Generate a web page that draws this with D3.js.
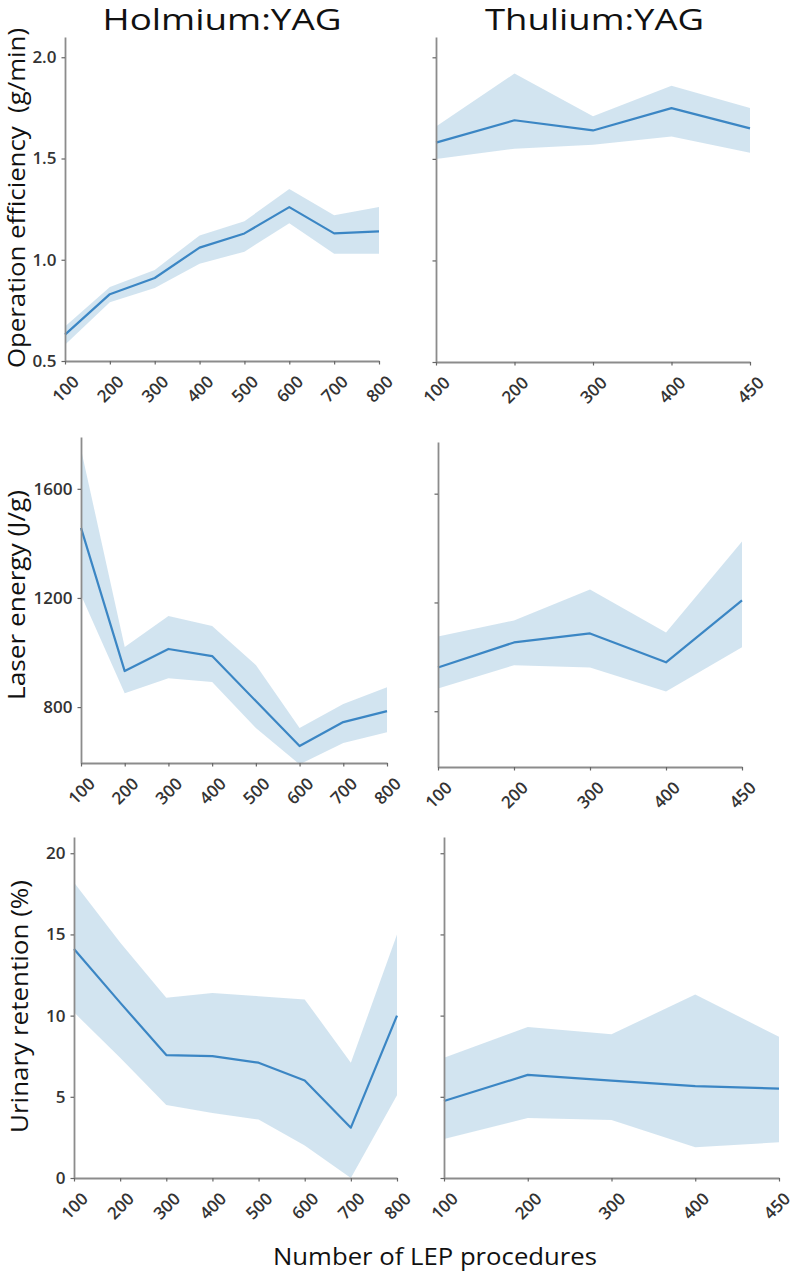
<!DOCTYPE html>
<html><head><meta charset="utf-8">
<script src="https://cdn.jsdelivr.net/npm/d3@7"></script>
<style>body{margin:0;background:#fff}</style>
</head><body><svg id="c" width="794" height="1273"></svg>
<script>
// ---- data ----
const holmiumProcedures = ["100","200","300","400","500","600","700","800"];
const thuliumProcedures = ["100","200","300","400","450"];

const hoEfficiency     = [0.63,0.83,0.91,1.06,1.13,1.26,1.13,1.14];
const hoEfficiencyLow  = [0.58,0.79,0.86,0.98,1.04,1.18,1.03,1.03];
const hoEfficiencyHigh = [0.67,0.865,0.95,1.12,1.19,1.35,1.22,1.26];
const tmEfficiency     = [1.58,1.69,1.64,1.75,1.65];
const tmEfficiencyLow  = [1.50,1.55,1.57,1.61,1.53];
const tmEfficiencyHigh = [1.66,1.92,1.71,1.86,1.75];

const hoEnergy     = [1457,932,1013,987,822,657,745,785];
const hoEnergyLow  = [1211,851,906,892,723,590,668,708];
const hoEnergyHigh = [1745,1020,1134,1097,954,723,811,873];
const tmEnergy     = [961,1053,1086,980,1208];
const tmEnergyLow  = [884,969,961,873,1035];
const tmEnergyHigh = [1075,1134,1248,1090,1424];

const hoRetention     = [14.1,10.8,7.57,7.5,7.1,6.0,3.1,10.0];
const hoRetentionLow  = [10.2,7.4,4.5,4.0,3.6,2.0,0.0,5.1];
const hoRetentionHigh = [18.2,14.5,11.1,11.4,11.2,11.0,7.1,15.0];
const tmRetention     = [4.74,6.35,6.0,5.66,5.5];
const tmRetentionLow  = [2.4,3.7,3.57,1.9,2.2];
const tmRetentionHigh = [7.4,9.3,8.85,11.3,8.7];

const efficiencyTicks = [0.5,1.0,1.5,2.0];
const energyTicks = [800,1200,1600];
const retentionTicks = [0,5,10,15,20];

const titles = ["Holmium:YAG","Thulium:YAG"];
const yLabels = ["Operation efficiency  (g/min)","Laser energy (J/g)","Urinary retention (%)"];
const xLabel = "Number of LEP procedures";

// ---- layout ----
const W = 794;
const svg = d3.select("#c");
const axisColor = "#8c8c8c";
const lineColor = "#3b86c4";
const bandColor = "rgba(31,119,180,0.2)";
const tickFont = "'Open Sans', sans-serif";

const panels = [
  {cats: holmiumProcedures, m: hoEfficiency, lo: hoEfficiencyLow, hi: hoEfficiencyHigh, ticks: efficiencyTicks, fmt: d3.format(".1f"), xr:[65,379], yd:[0.5,2.1], yr:[361,37], labels:true},
  {cats: thuliumProcedures, m: tmEfficiency, lo: tmEfficiencyLow, hi: tmEfficiencyHigh, ticks: efficiencyTicks, fmt: d3.format(".1f"), xr:[436,750], yd:[0.5,2.1], yr:[362,37], labels:false},
  {cats: holmiumProcedures, m: hoEnergy, lo: hoEnergyLow, hi: hoEnergyHigh, ticks: energyTicks, fmt: d3.format("d"), xr:[81,387], yd:[595,1790], yr:[763,437], labels:true},
  {cats: thuliumProcedures, m: tmEnergy, lo: tmEnergyLow, hi: tmEnergyHigh, ticks: energyTicks, fmt: d3.format("d"), xr:[438,742], yd:[595,1790], yr:[767,442], labels:false},
  {cats: holmiumProcedures, m: hoRetention, lo: hoRetentionLow, hi: hoRetentionHigh, ticks: retentionTicks, fmt: d3.format("d"), xr:[74,397], yd:[0,21], yr:[1178,837], labels:true},
  {cats: thuliumProcedures, m: tmRetention, lo: tmRetentionLow, hi: tmRetentionHigh, ticks: retentionTicks, fmt: d3.format("d"), xr:[444,779], yd:[0,21], yr:[1178,837], labels:false}
];

panels.forEach((p, i) => {
  const x = d3.scalePoint().domain(p.cats).range(p.xr).padding(0);
  const y = d3.scaleLinear().domain(p.yd).range(p.yr);
  const g = svg.append("g");
  const clipId = "clip" + i;
  svg.append("clipPath").attr("id", clipId).append("rect")
    .attr("x", p.xr[0]).attr("y", p.yr[1])
    .attr("width", p.xr[1] - p.xr[0]).attr("height", p.yr[0] - p.yr[1]);

  const rows = p.cats.map((c, k) => ({c, m: p.m[k], lo: p.lo[k], hi: p.hi[k]}));
  g.append("path").datum(rows)
    .attr("clip-path", `url(#${clipId})`)
    .attr("fill", bandColor)
    .attr("d", d3.area().x(d => x(d.c)).y0(d => y(d.lo)).y1(d => y(d.hi)));
  g.append("path").datum(rows)
    .attr("fill", "none").attr("stroke", lineColor).attr("stroke-width", 2.2)
    .attr("stroke-linejoin", "round")
    .attr("d", d3.line().x(d => x(d.c)).y(d => y(d.m)));

  // y axis
  const ya = g.append("g").attr("transform", `translate(${p.xr[0]},0)`)
    .call(d3.axisLeft(y).tickValues(p.ticks).tickSize(3.5).tickSizeOuter(0).tickPadding(5)
      .tickFormat(p.labels ? p.fmt : () => ""));
  // x axis
  const xa = g.append("g").attr("transform", `translate(0,${p.yr[0]})`)
    .call(d3.axisBottom(x).tickSize(3.5).tickSizeOuter(0));
  [ya, xa].forEach(a => {
    a.select(".domain").attr("stroke", axisColor).attr("stroke-width", 1.8);
    a.selectAll(".tick line").attr("stroke", "#666").attr("stroke-width", 1.2);
    a.selectAll(".tick text").attr("fill", "#333")
      .style("font-family", tickFont).style("font-size", "17px").style("font-weight", "600");
  });
  xa.selectAll(".tick text")
    .attr("y", 0).attr("dy", "0.35em").attr("text-anchor", "middle")
    .each(function() {
      // keep rotated labels inside the page
      const px = x(this.textContent);
      const len = this.getComputedTextLength();
      const half = (len / 2 + 6) * Math.SQRT1_2;
      const shift = Math.min(0, (W - 3) - (px + half));
      d3.select(this).attr("transform", `translate(${shift},28) rotate(-45)`);
    });
});

// titles
const titleSpec = [{cx:222, w:239},{cx:594.5, w:219}];
titles.forEach((t, i) => {
  svg.append("text").text(t)
    .attr("x", titleSpec[i].cx - titleSpec[i].w/2).attr("y", 30)
    .attr("textLength", titleSpec[i].w).attr("lengthAdjust", "spacingAndGlyphs")
    .style("font-family", "'Open Sans', sans-serif").style("font-size", "29px").attr("fill", "#111");
});

// y labels
const ySpec = [{bx:25, y0:368, y1:28},{bx:25, y0:700, y1:490},{bx:28, y0:1133, y1:880}];
yLabels.forEach((t, i) => {
  const s = ySpec[i];
  svg.append("text").text(t)
    .attr("transform", `translate(${s.bx},${s.y0}) rotate(-90)`)
    .attr("x", 0).attr("y", 0)
    .attr("textLength", s.y0 - s.y1).attr("lengthAdjust", "spacingAndGlyphs")
    .style("white-space", "pre")
    .style("font-family", "'Open Sans', sans-serif").style("font-size", "24px").attr("fill", "#111");
});

// x label
svg.append("text").text(xLabel)
  .attr("x", 273).attr("y", 1265)
  .attr("textLength", 324).attr("lengthAdjust", "spacingAndGlyphs")
  .style("font-family", "'Open Sans', sans-serif").style("font-size", "23px").attr("fill", "#111");
</script>
</body></html>
